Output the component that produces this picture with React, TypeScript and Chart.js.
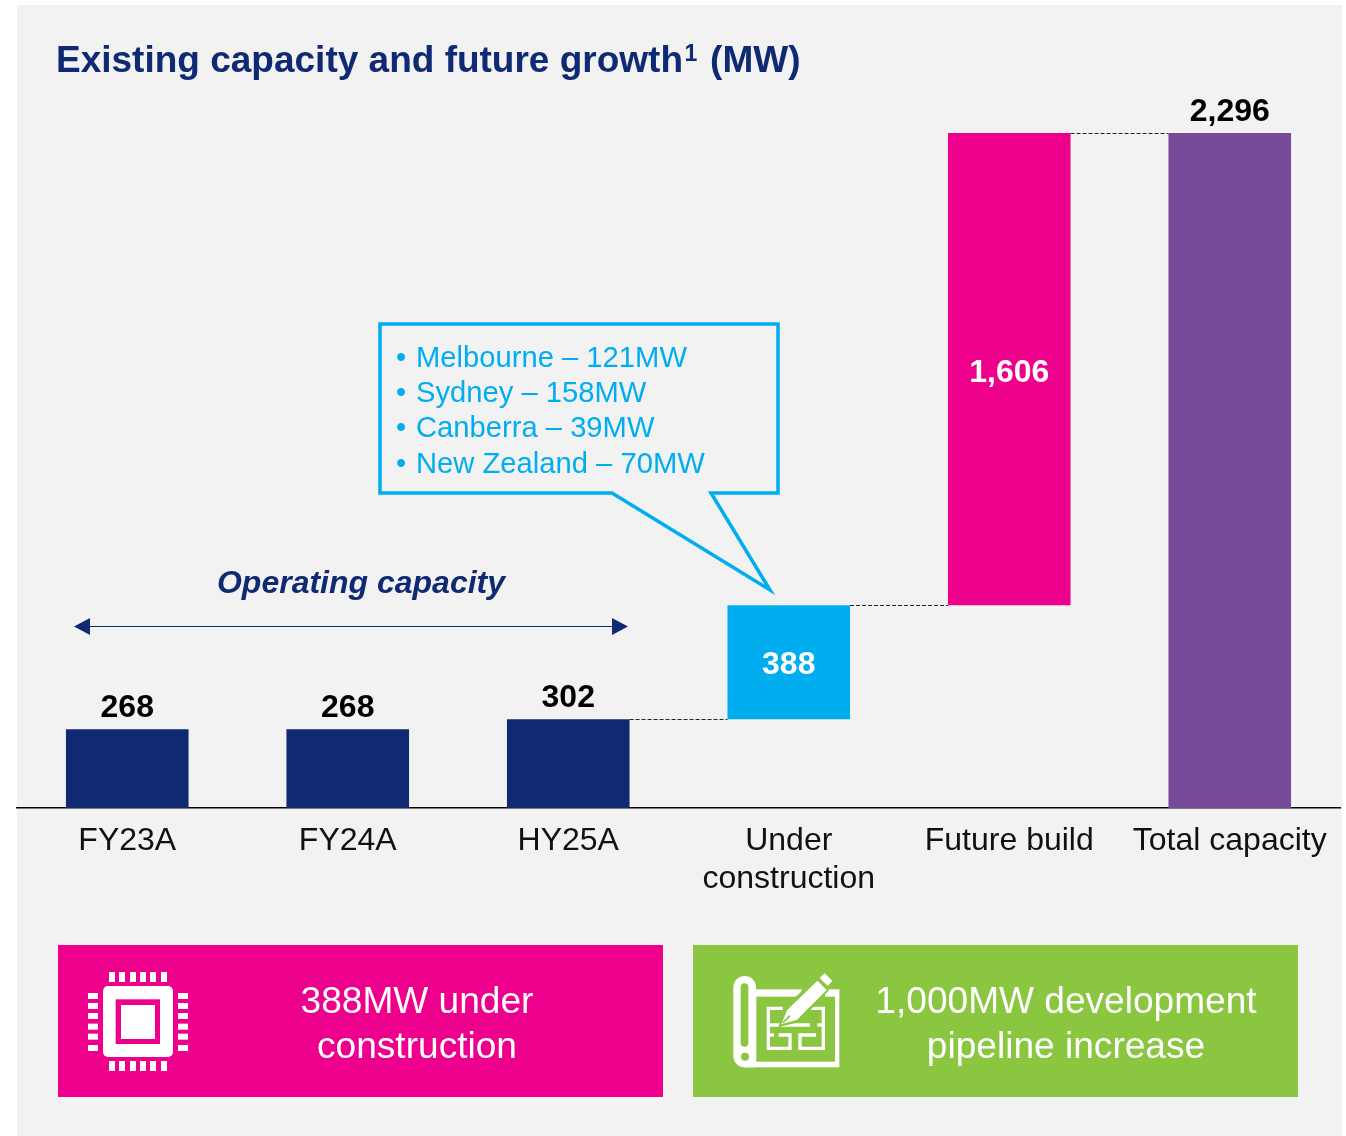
import React, { useEffect, useRef } from "react";
import { Chart, registerables } from "chart.js";

Chart.register(...registerables);

const categories: (string | string[])[] = ["FY23A", "FY24A", "HY25A", ["Under", "construction"], "Future build", "Total capacity"];
const values = [268, 268, 302, 388, 1606, 2296];
const bases = [0, 0, 0, 302, 690, 0];
const barColors = ["#0F2A72", "#0F2A72", "#0F2A72", "#00AEEF", "#EC008C", "#784B9A"];
const labelColors = ["#000000", "#000000", "#000000", "#FFFFFF", "#FFFFFF", "#000000"];
const titleMain = "Existing capacity and future growth";
const titleSup = "1";
const titleEnd = " (MW)";
const calloutLines = ["Melbourne – 121MW", "Sydney – 158MW", "Canberra – 39MW", "New Zealand – 70MW"];
const spanLabel = "Operating capacity";
const bannerLeft = ["388MW under", "construction"];
const bannerRight = ["1,000MW development", "pipeline increase"];

const FONT = '"Liberation Sans", Arial, sans-serif';
const NAVY = "#0F2A72";
const CYAN = "#00AEEF";
const PINK = "#EC008C";
const GREEN = "#8AC640";

function drawChip(ctx: CanvasRenderingContext2D) {
  ctx.save();
  ctx.translate(60, 950);
  ctx.scale(1 / 3, 1 / 3);
  ctx.fillStyle = "#fff";
  const across = [147, 177, 210, 240, 270, 303];
  across.forEach((x) => {
    ctx.fillRect(x, 66, 18, 30);
    ctx.fillRect(x, 333, 18, 30);
  });
  const down = [129, 159, 189, 221, 251, 285];
  down.forEach((y) => {
    ctx.fillRect(84, y, 30, 18);
    ctx.fillRect(354, y, 30, 18);
  });
  ctx.beginPath();
  ctx.roundRect(129, 108, 210, 213, 15);
  ctx.fill();
  ctx.fillStyle = PINK;
  ctx.fillRect(167, 148, 133, 134);
  ctx.fillStyle = "#fff";
  ctx.fillRect(183, 165, 102, 102);
  ctx.restore();
}

function drawPlan(ctx: CanvasRenderingContext2D) {
  ctx.save();
  ctx.translate(710, 950);
  ctx.scale(1 / 3, 1 / 3);
  ctx.fillStyle = "#fff";
  ctx.fillRect(100, 118, 288, 234);
  ctx.beginPath();
  ctx.roundRect(70, 78, 68, 274, [34, 34, 0, 34]);
  ctx.fill();
  ctx.fillStyle = GREEN;
  ctx.fillRect(139, 140, 236, 195);
  ctx.fillRect(275, 112, 70, 30);
  ctx.beginPath();
  ctx.roundRect(92, 100, 23, 190, 11);
  ctx.fill();
  ctx.beginPath();
  ctx.arc(105, 320, 12, 0, Math.PI * 2);
  ctx.fill();
  ctx.strokeStyle = "#fff";
  ctx.lineWidth = 10;
  const plan = [
    [[218, 175], [175, 175], [175, 295], [240, 295], [240, 255], [206, 255]],
    [[175, 255], [192, 255]],
    [[175, 225], [300, 225]],
    [[302, 175], [340, 175], [340, 295], [270, 295], [270, 255], [318, 255]],
    [[340, 225], [322, 225]],
  ];
  plan.forEach((seg) => {
    ctx.beginPath();
    seg.forEach(([x, y], i) => (i ? ctx.lineTo(x, y) : ctx.moveTo(x, y)));
    ctx.stroke();
  });
  ctx.fillStyle = GREEN;
  ctx.beginPath();
  ctx.moveTo(205, 232);
  ctx.lineTo(222, 174);
  ctx.lineTo(320, 80);
  ctx.lineTo(358, 120);
  ctx.lineTo(268, 216);
  ctx.closePath();
  ctx.fill();
  ctx.fillStyle = "#fff";
  ctx.beginPath();
  ctx.moveTo(214, 223);
  ctx.lineTo(231, 181);
  ctx.lineTo(322, 92);
  ctx.lineTo(350, 120);
  ctx.lineTo(261, 209);
  ctx.closePath();
  ctx.fill();
  ctx.beginPath();
  ctx.moveTo(329, 84);
  ctx.lineTo(344, 70);
  ctx.lineTo(367, 92);
  ctx.lineTo(353, 108);
  ctx.closePath();
  ctx.fill();
  ctx.strokeStyle = GREEN;
  ctx.lineWidth = 5;
  ctx.beginPath();
  ctx.moveTo(219, 218);
  ctx.lineTo(240, 197);
  ctx.stroke();
  ctx.restore();
}

const decorations = {
  id: "decorations",
  beforeDraw(chart: any) {
    const { ctx } = chart;
    ctx.save();
    ctx.fillStyle = "#F2F2F2";
    ctx.fillRect(17, 5, 1325, 1131);
    ctx.restore();
  },
  afterDraw(chart: any) {
    const { ctx } = chart;
    const y = chart.scales.y;
    const bars = chart.getDatasetMeta(0).data;
    ctx.save();

    // title
    ctx.fillStyle = NAVY;
    ctx.textAlign = "left";
    ctx.textBaseline = "alphabetic";
    ctx.font = `bold 37px ${FONT}`;
    let tx = 56;
    ctx.fillText(titleMain, tx, 72);
    tx += ctx.measureText(titleMain).width + 1.5;
    ctx.font = `bold 23px ${FONT}`;
    ctx.fillText(titleSup, tx, 61);
    tx += ctx.measureText(titleSup).width + 2.5;
    ctx.font = `bold 37px ${FONT}`;
    ctx.fillText(titleEnd, tx, 72);

    // connectors between stacked steps
    ctx.strokeStyle = "#222";
    ctx.lineWidth = 1;
    ctx.setLineDash([4, 2]);
    for (let i = 2; i < 5; i++) {
      const top = Math.round(y.getPixelForValue(bases[i] + values[i])) + 0.5;
      ctx.beginPath();
      ctx.moveTo(bars[i].x + bars[i].width / 2, top);
      ctx.lineTo(bars[i + 1].x - bars[i + 1].width / 2, top);
      ctx.stroke();
    }
    ctx.setLineDash([]);

    // value labels
    ctx.font = `bold 32px ${FONT}`;
    ctx.textAlign = "center";
    ctx.textBaseline = "alphabetic";
    values.forEach((v, i) => {
      ctx.fillStyle = labelColors[i];
      const text = v.toLocaleString("en-US");
      let ly: number;
      if (i === 3) ly = 674;
      else if (i === 4) ly = 382;
      else ly = y.getPixelForValue(bases[i] + v) - 12;
      ctx.fillText(text, bars[i].x, ly);
    });

    // callout
    ctx.strokeStyle = CYAN;
    ctx.lineWidth = 3.5;
    ctx.lineJoin = "miter";
    ctx.miterLimit = 10;
    ctx.beginPath();
    ctx.moveTo(380, 324);
    ctx.lineTo(778, 324);
    ctx.lineTo(778, 493);
    ctx.lineTo(711, 493);
    ctx.lineTo(770, 590);
    ctx.lineTo(612, 493);
    ctx.lineTo(380, 493);
    ctx.closePath();
    ctx.stroke();
    ctx.fillStyle = CYAN;
    ctx.textAlign = "left";
    ctx.font = `29.2px ${FONT}`;
    calloutLines.forEach((line, i) => {
      const by = 367 + i * 35.2;
      ctx.fillText("•", 396, by);
      ctx.fillText(line, 416, by);
    });

    // operating capacity span
    ctx.fillStyle = NAVY;
    ctx.strokeStyle = NAVY;
    ctx.font = `italic bold 32px ${FONT}`;
    ctx.textAlign = "center";
    ctx.fillText(spanLabel, 361, 593);
    ctx.lineWidth = 1.2;
    ctx.beginPath();
    ctx.moveTo(85, 626.5);
    ctx.lineTo(617, 626.5);
    ctx.stroke();
    ctx.beginPath();
    ctx.moveTo(74, 626.5);
    ctx.lineTo(90, 618);
    ctx.lineTo(90, 635);
    ctx.closePath();
    ctx.moveTo(628, 626.5);
    ctx.lineTo(612, 618);
    ctx.lineTo(612, 635);
    ctx.closePath();
    ctx.fill();

    // banners
    ctx.fillStyle = PINK;
    ctx.fillRect(58, 945, 605, 152);
    ctx.fillStyle = GREEN;
    ctx.fillRect(693, 945, 605, 152);
    ctx.fillStyle = "#fff";
    ctx.font = `37.1px ${FONT}`;
    ctx.textAlign = "center";
    bannerLeft.forEach((t, i) => ctx.fillText(t, 417, 1013 + i * 45));
    bannerRight.forEach((t, i) => ctx.fillText(t, 1066, 1013 + i * 45));
    ctx.restore();

    drawChip(ctx);
    drawPlan(ctx);
  },
};

export default function App() {
  const ref = useRef<HTMLCanvasElement>(null);
  useEffect(() => {
    const chart = new Chart(ref.current!, {
      type: "bar",
      data: {
        labels: categories as any,
        datasets: [
          {
            data: values.map((v, i) => [bases[i], bases[i] + v]) as any,
            backgroundColor: barColors,
            borderWidth: 0,
            barPercentage: 0.556,
            categoryPercentage: 1,
          },
        ],
      },
      options: {
        responsive: false,
        animation: false,
        layout: { padding: { left: 17, right: 6, top: 133, bottom: 0 } },
        plugins: { legend: { display: false }, tooltip: { enabled: false }, title: { display: false } },
        scales: {
          x: {
            grid: { display: false },
            border: { display: true, color: "#000", width: 1.5 },
            ticks: {
              color: "#111",
              font: { family: FONT, size: 32 },
              padding: 6,
              maxRotation: 0,
              autoSkip: false,
            },
            afterFit: (s: any) => {
              s.height = 328;
            },
          },
          y: { display: false, min: 0, max: 2296 },
        },
      },
      plugins: [decorations],
    });
    return () => chart.destroy();
  }, []);
  return (
    <div style={{ position: "absolute", left: 0, top: 0, width: 1346, height: 1136, background: "#fff" }}>
      <canvas ref={ref} width={1346} height={1136} style={{ display: "block" }} />
    </div>
  );
}
